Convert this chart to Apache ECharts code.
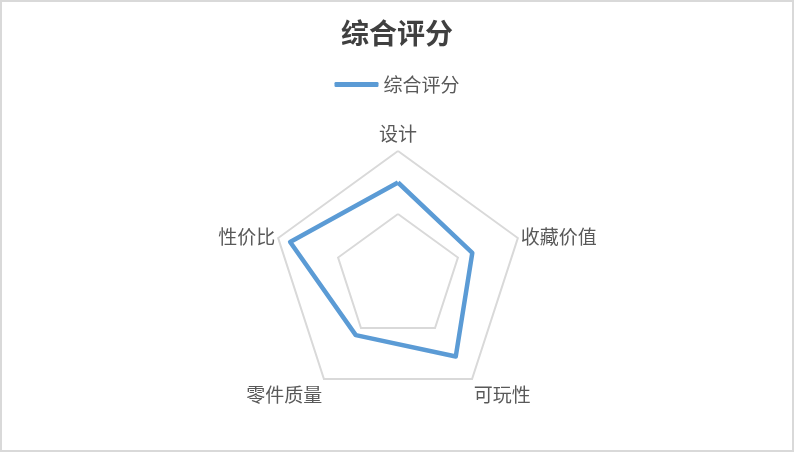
<!DOCTYPE html>
<html>
<head>
<meta charset="utf-8">
<script src="https://cdn.jsdelivr.net/npm/echarts@6/dist/echarts.min.js"></script>
<style>
html, body { margin: 0; padding: 0; background: #fff; }
#mainCanvas { width: 794px; height: 452px; box-sizing: border-box; border: 2px solid #d9d9d9; }
</style>
</head>
<body>
<div id="mainCanvas"></div>
<script>
var myChart = echarts.init(document.getElementById("mainCanvas"));
// clockwise from the top, as in the picture
var indicators = ["设计", "收藏价值", "可玩性", "零件质量", "性价比"];
var maxValue = 10;
var scores = [7.5, 6.2, 7.8, 5.7, 9.0];
var seriesName = "综合评分";

// echarts lays radar axes out counter-clockwise, so flip everything after the first
function clockwise(arr) {
    return [arr[0]].concat(arr.slice(1).reverse());
}

var font = '"Noto Sans CJK SC", sans-serif';
var nameStyle = { color: '#595959', fontSize: 19, fontFamily: font };
var option = {
    title: {
        text: '综合评分',
        left: 'center',
        top: 12,
        textStyle: { fontSize: 28, fontWeight: 'bold', color: '#404040', fontFamily: font }
    },
    legend: {
        data: [seriesName],
        top: 68,
        left: 'center',
        icon: 'roundRect',
        itemWidth: 44,
        itemHeight: 5,
        itemGap: 10,
        textStyle: { fontSize: 19, color: '#595959', fontFamily: font }
    },
    radar: {
        center: [396, 275],
        radius: 126,
        startAngle: 90,
        splitNumber: 2,
        shape: 'polygon',
        nameGap: 3,
        axisName: {
            color: '#595959', fontSize: 19, fontFamily: font,
            formatter: function (name) {
                var i = indicators.indexOf(name);
                if (i === 0) return '{top|' + name + '}';
                if (i === 2 || i === 3) return '{low|' + name + '}';
                return name;
            },
            rich: {
                top: Object.assign({ padding: [0, 0, 5, 0] }, nameStyle),
                low: Object.assign({ padding: [26, 0, 0, 0] }, nameStyle)
            }
        },
        axisLine: { show: false },
        splitArea: { show: false },
        splitLine: { lineStyle: { color: '#d9d9d9', width: 2 } },
        indicator: clockwise(indicators).map(function (n) { return { name: n, max: maxValue, min: 0 }; })
    },
    series: [
        {
            name: seriesName,
            type: 'radar',
            symbol: 'none',
            lineStyle: { color: '#5b9bd5', width: 4.5 },
            itemStyle: { color: '#5b9bd5' },
            data: [{ value: clockwise(scores), name: seriesName }]
        }
    ]
};

myChart.setOption(option);
</script>
</body>
</html>
